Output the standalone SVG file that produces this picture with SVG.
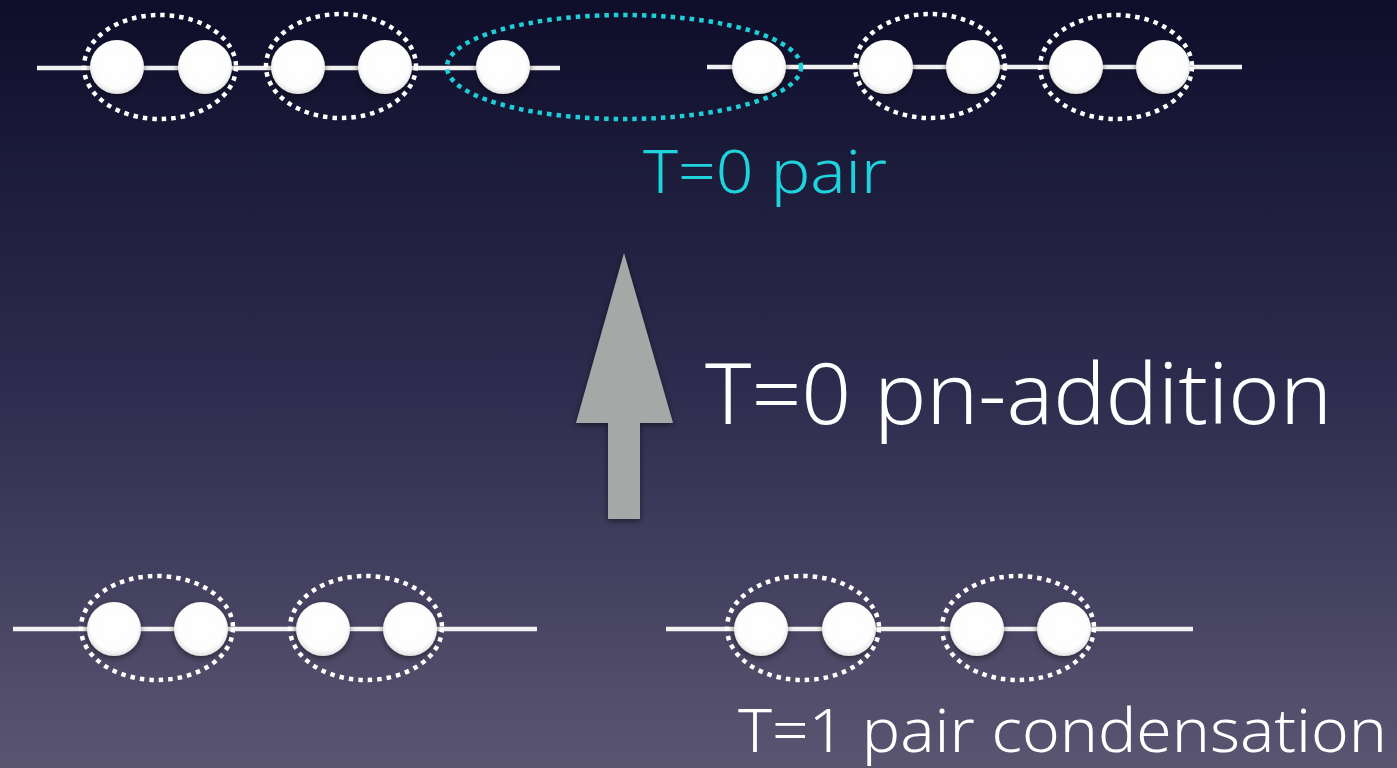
<svg xmlns="http://www.w3.org/2000/svg" width="1397" height="768" viewBox="0 0 1397 768">
<defs>
<linearGradient id="bg" x1="0" y1="0" x2="0" y2="1">
<stop offset="0" stop-color="#0e0e2b"/>
<stop offset="0.5" stop-color="#2d2c4e"/>
<stop offset="1" stop-color="#5a5571"/>
</linearGradient>
<radialGradient id="ball" cx="0.5" cy="0.45" r="0.55">
<stop offset="0" stop-color="#ffffff"/>
<stop offset="0.8" stop-color="#fdfdfd"/>
<stop offset="1" stop-color="#e2e2e2"/>
</radialGradient>
<filter id="sh" x="-50%" y="-50%" width="200%" height="200%">
<feDropShadow dx="0" dy="2" stdDeviation="3" flood-color="#000" flood-opacity="0.5"/>
</filter>
<style>
.chain{stroke:#f2f2f2;stroke-width:4.5;fill:none}
.ball{fill:url(#ball);filter:url(#sh)}
.pair{fill:none;stroke:#ffffff;stroke-width:4.5;stroke-dasharray:4.5 5}
.t0{fill:none;stroke:#1fcfd8;stroke-width:4.5;stroke-dasharray:4.5 5}
.lbl{font-family:"Noto Sans","DejaVu Sans",sans-serif;font-weight:300}
</style>
</defs>
<rect x="0" y="0" width="1397" height="768" fill="url(#bg)"/>
<g id="connectors">
<line class="chain" x1="37" y1="68" x2="560" y2="68"/>
<line class="chain" x1="707" y1="67" x2="1242" y2="67"/>
<line class="chain" x1="13" y1="629" x2="537" y2="629"/>
<line class="chain" x1="666" y1="629" x2="1193" y2="629"/>
</g>
<g id="top-left-chain">
<circle class="ball" cx="117" cy="67" r="27"/>
<circle class="ball" cx="205" cy="67" r="27"/>
<circle class="ball" cx="298" cy="67" r="27"/>
<circle class="ball" cx="385" cy="67" r="27"/>
<circle class="ball" cx="503" cy="67" r="27"/>
</g>
<g id="top-right-chain">
<circle class="ball" cx="759" cy="67" r="27"/>
<circle class="ball" cx="886" cy="67" r="27"/>
<circle class="ball" cx="973" cy="67" r="27"/>
<circle class="ball" cx="1076" cy="67" r="27"/>
<circle class="ball" cx="1163" cy="67" r="27"/>
</g>
<g id="top-pairs">
<ellipse class="pair" cx="160" cy="67" rx="76" ry="52"/>
<ellipse class="pair" cx="341" cy="66" rx="75" ry="52"/>
<ellipse class="pair" cx="930" cy="66" rx="75" ry="52"/>
<ellipse class="pair" cx="1116" cy="67" rx="76" ry="52"/>
</g>
<g id="t0-pair">
<ellipse class="t0" cx="624" cy="67" rx="177" ry="52"/>
<text class="lbl" x="643" y="193" font-size="60" fill="#1fd3dc" textLength="244" lengthAdjust="spacingAndGlyphs">T=0 pair</text>
</g>
<g id="arrow">
<polygon points="624,253 673,423 640,423 640,519 608,519 608,423 576,423" fill="#a4a8a6" filter="url(#sh)"/>
<text class="lbl" x="705" y="424" font-size="85" fill="#ffffff" textLength="627" lengthAdjust="spacingAndGlyphs">T=0 pn-addition</text>
</g>
<g id="bottom-left-chain">
<circle class="ball" cx="114" cy="629" r="27"/>
<circle class="ball" cx="201" cy="629" r="27"/>
<circle class="ball" cx="323" cy="629" r="27"/>
<circle class="ball" cx="410" cy="629" r="27"/>
<ellipse class="pair" cx="157" cy="628" rx="76" ry="52"/>
<ellipse class="pair" cx="366" cy="628" rx="76" ry="52"/>
</g>
<g id="bottom-right-chain">
<circle class="ball" cx="761" cy="629" r="27"/>
<circle class="ball" cx="849" cy="629" r="27"/>
<circle class="ball" cx="977" cy="629" r="27"/>
<circle class="ball" cx="1064" cy="629" r="27"/>
<ellipse class="pair" cx="803" cy="628" rx="76" ry="52"/>
<ellipse class="pair" cx="1018" cy="628" rx="76" ry="52"/>
</g>
<g id="t1-label">
<text class="lbl" x="738" y="752" font-size="60" fill="#ffffff" textLength="649" lengthAdjust="spacingAndGlyphs">T=1 pair condensation</text>
</g>
</svg>
